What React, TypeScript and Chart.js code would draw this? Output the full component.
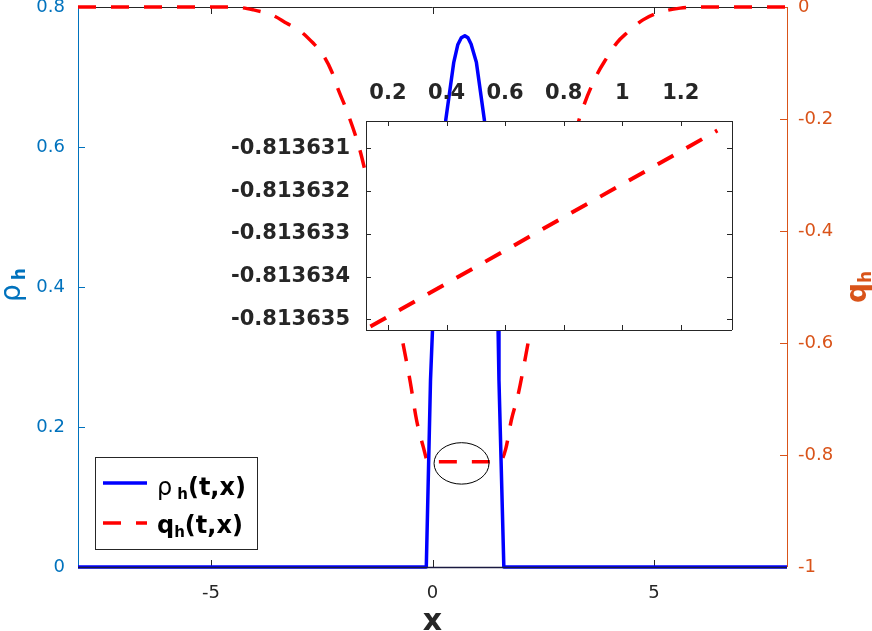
import React, { useEffect, useRef } from 'react';
import { Chart, registerables } from 'chart.js';

Chart.register(...registerables);

// ---------------- data ----------------
const rhoX = [-8, -0.14, -0.045, 0.0, 0.3, 0.48, 0.57, 0.65, 0.73, 0.8, 0.87, 0.99, 1.17, 1.48, 1.5, 1.61, 8];
const rhoY = [0, 0, 0.267, 0.339, 0.639, 0.721, 0.746, 0.756, 0.759, 0.756, 0.747, 0.721, 0.639, 0.339, 0.267, 0, 0];

const qX = [-8, -4.5, -4.05, -3.6, -3.29, -3.0, -2.7, -2.5, -2.27, -2.14, -1.94, -1.64, -1.5, -1.2, -0.9, -0.51, -0.36, -0.21, -0.1, 1.52, 1.65, 1.78, 1.93, 2.2, 2.5, 2.8, 3.1, 3.4, 3.73, 3.9, 4.16, 4.39, 4.75, 5.07, 5.59, 6.0, 8];
const qY = [0, 0, -0.005, -0.015, -0.029, -0.042, -0.064, -0.082, -0.116, -0.145, -0.184, -0.255, -0.3, -0.4, -0.51, -0.666, -0.7375, -0.785, -0.812, -0.812, -0.79, -0.7375, -0.693, -0.582, -0.46, -0.36, -0.26, -0.179, -0.118, -0.095, -0.064, -0.046, -0.023, -0.011, -0.002, 0, 0];

const insetX = [0.14, 0.4, 0.6, 0.8, 1.0, 1.2, 1.325];
const insetQ = [-0.81363517, -0.81363416, -0.81363339, -0.81363261, -0.81363184, -0.81363107, -0.81363058];

const xTicks = [-5, 0, 5];
const rhoTicks = [0, 0.2, 0.4, 0.6, 0.8];
const qTicks = [-1, -0.8, -0.6, -0.4, -0.2, 0];
const insetXTicks = [0.2, 0.4, 0.6, 0.8, 1, 1.2];
const insetYTicks = [-0.813635, -0.813634, -0.813633, -0.813632, -0.813631];

// ---------------- styles ----------------
const FONT = 'DejaVu Sans';
const AX = '#262626';
const BLUE_AX = '#0072BD';
const ORANGE_AX = '#D95319';
const DASH = [18, 15];

Chart.defaults.font.family = FONT;

const setTicks = (vals: number[]) => (scale: any) => {
  scale.ticks = vals.map((v) => ({ value: v }));
};
const fixSize = (prop: 'width' | 'height', size: number) => (scale: any) => {
  scale[prop] = size;
  scale.paddingTop = 0;
  scale.paddingBottom = 0;
  scale.paddingLeft = 0;
  scale.paddingRight = 0;
};
const fmt1 = (v: number) => (Number.isInteger(v) ? String(v) : v.toFixed(1));

type Part = { text: string; font: string; dy?: number; gap?: number };

function drawParts(ctx: CanvasRenderingContext2D, parts: Part[], x: number, y: number, color: string, align: 'left' | 'center', rot = 0) {
  ctx.save();
  ctx.translate(x, y);
  if (rot) ctx.rotate(rot);
  ctx.fillStyle = color;
  ctx.textBaseline = 'alphabetic';
  ctx.textAlign = 'left';
  let total = 0;
  const widths = parts.map((p) => {
    ctx.font = p.font;
    const w = ctx.measureText(p.text).width + (p.gap || 0);
    total += w;
    return w;
  });
  let cx = align === 'center' ? -total / 2 : 0;
  parts.forEach((p, i) => {
    ctx.font = p.font;
    ctx.fillText(p.text, cx, p.dy || 0);
    cx += widths[i];
  });
  ctx.restore();
}

function hline(ctx: CanvasRenderingContext2D, x1: number, x2: number, y: number) {
  const yy = Math.round(y) + 0.5;
  ctx.beginPath();
  ctx.moveTo(x1, yy);
  ctx.lineTo(x2, yy);
  ctx.stroke();
}
function vline(ctx: CanvasRenderingContext2D, x: number, y1: number, y2: number) {
  const xx = Math.round(x) + 0.5;
  ctx.beginPath();
  ctx.moveTo(xx, y1);
  ctx.lineTo(xx, y2);
  ctx.stroke();
}

const TL = 7;

const mainDecor = {
  id: 'mainDecor',
  beforeDatasetsDraw(chart: any) {
    const { ctx, chartArea: a, scales } = chart;
    ctx.save();
    ctx.lineWidth = 1;
    ctx.strokeStyle = AX;
    hline(ctx, a.left, a.right, a.top);
    scales.x.ticks.forEach((t: any) => {
      const px = scales.x.getPixelForValue(t.value);
      vline(ctx, px, a.bottom, a.bottom - TL);
      vline(ctx, px, a.top, a.top + TL);
    });
    ctx.strokeStyle = BLUE_AX;
    vline(ctx, a.left, a.top, a.bottom);
    scales.y.ticks.forEach((t: any) => {
      const py = scales.y.getPixelForValue(t.value);
      hline(ctx, a.left, a.left + TL, py);
    });
    ctx.strokeStyle = ORANGE_AX;
    vline(ctx, a.right, a.top, a.bottom);
    scales.y2.ticks.forEach((t: any) => {
      const py = scales.y2.getPixelForValue(t.value);
      hline(ctx, a.right - TL, a.right, py);
    });
    ctx.restore();
  },
  afterDatasetsDraw(chart: any) {
    const { ctx, chartArea: a, scales } = chart;
    ctx.save();
    // bottom axis line over the data
    ctx.strokeStyle = '#1a1a40';
    ctx.lineWidth = 1.5;
    hline(ctx, a.left, a.right, a.bottom);

    // ellipse annotation (data coordinates)
    const cx = scales.x.getPixelForValue(0.655);
    const cy = scales.y2.getPixelForValue(-0.815);
    const rx = Math.abs(scales.x.getPixelForValue(0.655 + 0.62) - cx);
    const ry = Math.abs(scales.y2.getPixelForValue(-0.815 + 0.037) - cy);
    ctx.strokeStyle = '#000';
    ctx.lineWidth = 1;
    ctx.beginPath();
    ctx.ellipse(cx, cy, rx, ry, 0, 0, Math.PI * 2);
    ctx.stroke();

    // legend
    const lx = 95.5, ly = 457.5, lw = 162, lh = 92;
    ctx.fillStyle = '#fff';
    ctx.fillRect(lx, ly, lw, lh);
    ctx.strokeStyle = AX;
    ctx.strokeRect(lx, ly, lw, lh);
    const ds = chart.data.datasets;
    const rows = [
      { y: 483, base: 495, parts: [
        { text: 'ρ', font: `normal 24px ${FONT}`, gap: 5 },
        { text: 'h', font: `bold 15px ${FONT}`, dy: 4 },
        { text: '(t,x)', font: `bold 24px ${FONT}` },
      ] as Part[] },
      { y: 523, base: 533, parts: [
        { text: 'q', font: `bold 24px ${FONT}` },
        { text: 'h', font: `bold 15px ${FONT}`, dy: 4 },
        { text: '(t,x)', font: `bold 24px ${FONT}` },
      ] as Part[] },
    ];
    rows.forEach((r, i) => {
      ctx.save();
      ctx.strokeStyle = ds[i].borderColor;
      ctx.lineWidth = ds[i].borderWidth;
      ctx.setLineDash(ds[i].borderDash || []);
      ctx.beginPath();
      ctx.moveTo(103, r.y);
      ctx.lineTo(147, r.y);
      ctx.stroke();
      ctx.restore();
      drawParts(ctx, r.parts, 157, r.base, '#000', 'left');
    });

    // axis titles
    drawParts(ctx, [{ text: 'x', font: `bold 30px ${FONT}` }], (a.left + a.right) / 2, 630, AX, 'center');
    drawParts(ctx, [
      { text: 'ρ', font: `normal 28px ${FONT}`, gap: 4 },
      { text: 'h', font: `bold 17px ${FONT}`, dy: 5 },
    ], 20, 285, BLUE_AX, 'center', -Math.PI / 2);
    drawParts(ctx, [
      { text: 'q', font: `bold 28px ${FONT}` },
      { text: 'h', font: `bold 17px ${FONT}`, dy: 5 },
    ], 866, 287, ORANGE_AX, 'center', -Math.PI / 2);
    ctx.restore();
  },
};

const insetDecor = {
  id: 'insetDecor',
  beforeDraw(chart: any) {
    const { ctx, chartArea: a } = chart;
    ctx.save();
    ctx.fillStyle = '#fff';
    ctx.fillRect(a.left, a.top, a.right - a.left, a.bottom - a.top);
    ctx.restore();
  },
  afterDatasetsDraw(chart: any) {
    const { ctx, chartArea: a, scales } = chart;
    const tl = 5;
    ctx.save();
    ctx.strokeStyle = AX;
    ctx.lineWidth = 1;
    hline(ctx, a.left, a.right, a.top);
    hline(ctx, a.left, a.right, a.bottom);
    vline(ctx, a.left, a.top, a.bottom);
    vline(ctx, a.right, a.top, a.bottom);
    scales.x.ticks.forEach((t: any) => {
      const px = scales.x.getPixelForValue(t.value);
      vline(ctx, px, a.top, a.top + tl);
      vline(ctx, px, a.bottom, a.bottom - tl);
    });
    scales.y.ticks.forEach((t: any) => {
      const py = scales.y.getPixelForValue(t.value);
      hline(ctx, a.left, a.left + tl, py);
      hline(ctx, a.right - tl, a.right, py);
    });
    ctx.restore();
  },
};

export default function App() {
  const mainRef = useRef<HTMLCanvasElement>(null);
  const insetRef = useRef<HTMLCanvasElement>(null);

  useEffect(() => {
    document.body.style.margin = '0';
    const main = new Chart(mainRef.current as HTMLCanvasElement, {
      type: 'line',
      data: {
        datasets: [
          {
            label: 'ρh(t,x)',
            data: rhoX.map((x, i) => ({ x, y: rhoY[i] })),
            yAxisID: 'y',
            borderColor: '#0000FF',
            borderWidth: 3.5,
            borderJoinStyle: 'round',
            pointRadius: 0,
            tension: 0,
            fill: false,
            clip: false,
          } as any,
          {
            label: 'qh(t,x)',
            data: qX.map((x, i) => ({ x, y: qY[i] })),
            yAxisID: 'y2',
            borderColor: '#FF0000',
            borderWidth: 3.5,
            borderDash: DASH,
            cubicInterpolationMode: 'monotone',
            pointRadius: 0,
            fill: false,
            clip: false,
          } as any,
        ],
      },
      options: {
        responsive: false,
        animation: false,
        devicePixelRatio: 1,
        layout: { padding: { top: 7, left: 0, right: 0, bottom: 0 } },
        plugins: { legend: { display: false }, tooltip: { enabled: false } },
        scales: {
          x: {
            type: 'linear',
            position: 'bottom',
            min: -8,
            max: 8,
            afterBuildTicks: setTicks(xTicks),
            afterFit: fixSize('height', 64),
            grid: { display: false, drawTicks: false },
            border: { display: false },
            ticks: { color: AX, font: { family: FONT, size: 18 }, padding: 16, maxRotation: 0, autoSkip: false, callback: (v: any) => String(v) },
          },
          y: {
            type: 'linear',
            position: 'left',
            min: 0,
            max: 0.8,
            afterBuildTicks: setTicks(rhoTicks),
            afterFit: fixSize('width', 78),
            grid: { display: false, drawTicks: false },
            border: { display: false },
            ticks: { color: BLUE_AX, font: { family: FONT, size: 18 }, padding: 13, autoSkip: false, callback: (v: any) => fmt1(v) },
          },
          y2: {
            type: 'linear',
            position: 'right',
            min: -1,
            max: 0,
            afterBuildTicks: setTicks(qTicks),
            afterFit: fixSize('width', 85),
            grid: { display: false, drawTicks: false },
            border: { display: false },
            ticks: { color: ORANGE_AX, font: { family: FONT, size: 18 }, padding: 11, autoSkip: false, callback: (v: any) => fmt1(v) },
          },
        },
      } as any,
      plugins: [mainDecor],
    });

    const inset = new Chart(insetRef.current as HTMLCanvasElement, {
      type: 'line',
      data: {
        datasets: [
          {
            label: 'qh(t,x)',
            data: insetX.map((x, i) => ({ x, y: insetQ[i] })),
            borderColor: '#FF0000',
            borderWidth: 4,
            borderDash: DASH,
            pointRadius: 0,
            tension: 0,
            fill: false,
          } as any,
        ],
      },
      options: {
        responsive: false,
        animation: false,
        devicePixelRatio: 1,
        layout: { padding: { top: 0, left: 0, right: 18, bottom: 10 } },
        plugins: { legend: { display: false }, tooltip: { enabled: false } },
        scales: {
          x: {
            type: 'linear',
            position: 'top',
            min: 0.125,
            max: 1.375,
            afterBuildTicks: setTicks(insetXTicks),
            afterFit: fixSize('height', 51),
            grid: { display: false, drawTicks: false },
            border: { display: false },
            ticks: { color: AX, font: { family: FONT, size: 21, weight: 'bold' }, padding: 15, maxRotation: 0, autoSkip: false, callback: (v: any) => String(v) },
          },
          y: {
            type: 'linear',
            position: 'left',
            min: -0.81363525,
            max: -0.81363036,
            afterBuildTicks: setTicks(insetYTicks),
            afterFit: fixSize('width', 146),
            grid: { display: false, drawTicks: false },
            border: { display: false },
            ticks: { color: AX, font: { family: FONT, size: 21, weight: 'bold' }, padding: 16, autoSkip: false, callback: (v: any) => Number(v).toFixed(6) },
          },
        },
      } as any,
      plugins: [insetDecor],
    });

    return () => {
      main.destroy();
      inset.destroy();
    };
  }, []);

  return (
    <div style={{ position: 'absolute', left: 0, top: 0, width: 872, height: 631, background: '#fff', overflow: 'hidden' }}>
      <canvas ref={mainRef} width={872} height={631} style={{ position: 'absolute', left: 0, top: 0 }} />
      <canvas ref={insetRef} width={530} height={270} style={{ position: 'absolute', left: 220, top: 70 }} />
    </div>
  );
}
